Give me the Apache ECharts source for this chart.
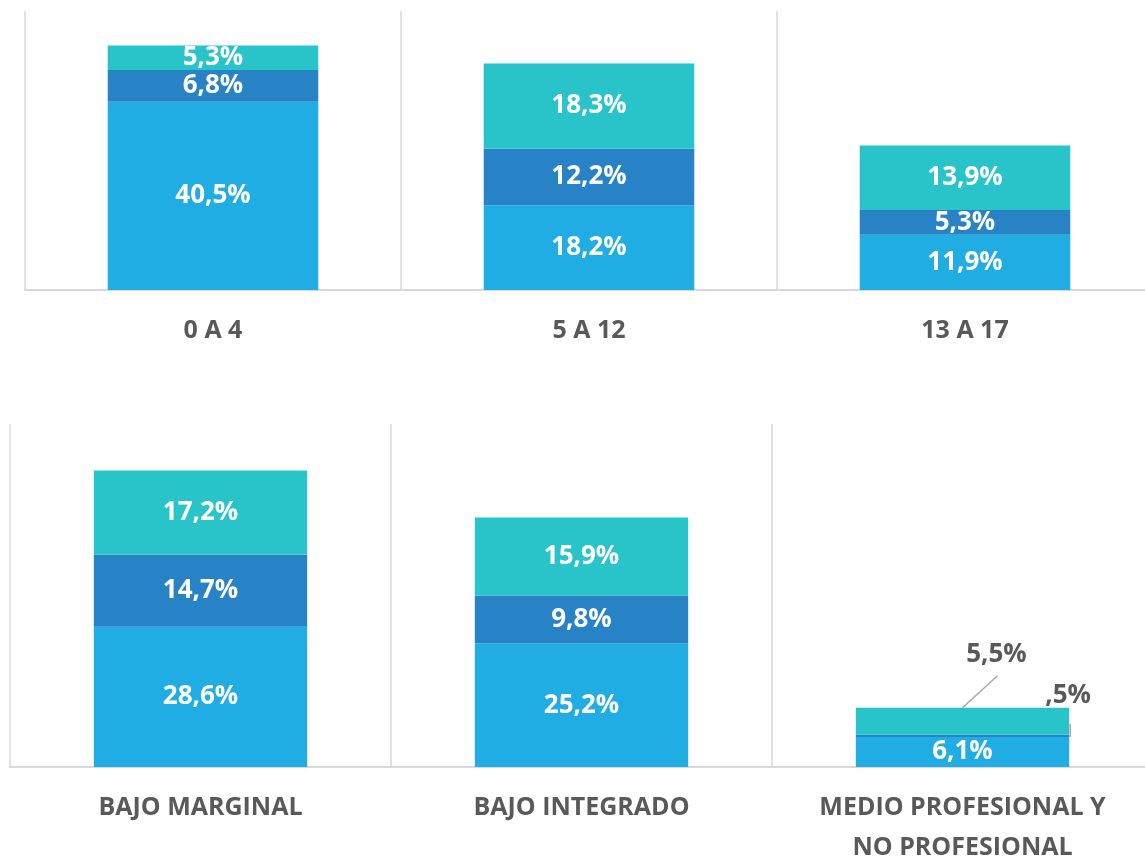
<!DOCTYPE html>
<html>
<head>
<meta charset="utf-8">
<script src="https://cdn.jsdelivr.net/npm/echarts@6/dist/echarts.min.js"></script>
<style>
  html, body { margin: 0; padding: 0; background: #fff; }
  #main { width: 1145px; height: 859px; }
</style>
</head>
<body>
<div id="main"></div>
<script>
// edades
var topCats = ['0 A 4', '5 A 12', '13 A 17'];
var topBase = [40.5, 18.2, 11.9];
var topMid = [6.8, 12.2, 5.3];
var topUpper = [5.3, 18.3, 13.9];
// nivel socioeconomico
var botCats = ['BAJO MARGINAL', 'BAJO INTEGRADO', 'MEDIO PROFESIONAL Y\nNO PROFESIONAL'];
var botBase = [28.6, 25.2, 6.1];
var botMid = [14.7, 9.8, 0.5];
var botUpper = [17.2, 15.9, 5.5];
var topMax = 60;
var botMax = 70;

var colors = ['#1FADE3', '#2882C6', '#29C4CA'];
var gridLine = '#d9d9d9';
var textGray = '#595959';

// rects de las barras chicas, para dibujar las lineas guia despues
var guide = {};

// formato tipo "#,#%" de excel
function fmt(v) {
  var s = v.toFixed(1).replace('.', ',');
  if (v < 1) s = s.replace(/^0/, '');
  return s + '%';
}

function xAxisFor(idx, cats) {
  return {
    type: 'category',
    gridIndex: idx,
    data: cats,
    axisTick: { show: false },
    axisLine: { lineStyle: { color: gridLine, width: 2 } },
    splitLine: { show: true, lineStyle: { color: gridLine, width: 1.5 } },
    axisLabel: {
      color: textGray,
      fontFamily: 'Open Sans',
      fontWeight: 'bold',
      fontSize: 25,
      lineHeight: 40,
      margin: 21,
      interval: 0
    }
  };
}

function yAxisFor(idx, max) {
  return {
    type: 'value',
    gridIndex: idx,
    min: 0,
    max: max,
    show: false,
    splitLine: { show: false }
  };
}

var insideLabel = {
  show: true,
  position: 'inside',
  color: '#fff',
  fontFamily: 'Open Sans',
  fontWeight: 'bold',
  fontSize: 26,
  formatter: function (p) { return fmt(p.value); }
};

// los segmentos chicos de la ultima barra llevan la etiqueta afuera
function outsideItems(arr) {
  return arr.map(function (v, i) {
    if (i !== 2) return v;
    return { value: v, label: { position: 'top', color: textGray } };
  });
}

function barSeries(name, idx, stack, data, color, layout) {
  var s = {
    name: name,
    type: 'bar',
    xAxisIndex: idx,
    yAxisIndex: idx,
    stack: stack,
    barWidth: '56%',
    data: data,
    itemStyle: { color: color },
    label: insideLabel
  };
  if (layout) s.labelLayout = layout;
  return s;
}

var option = {
  animation: false,
  backgroundColor: '#fff',
  grid: [
    { left: 25, width: 1128, top: 11, bottom: 569, outerBoundsMode: 'none' },
    { left: 10, width: 1143, top: 424, bottom: 92, outerBoundsMode: 'none' }
  ],
  xAxis: [xAxisFor(0, topCats), xAxisFor(1, botCats)],
  yAxis: [yAxisFor(0, topMax), yAxisFor(1, botMax)],
  series: [
    barSeries('base', 0, 'a', topBase, colors[0]),
    barSeries('medio', 0, 'a', topMid, colors[1]),
    barSeries('alto', 0, 'a', topUpper, colors[2]),
    barSeries('base', 1, 'b', botBase, colors[0]),
    barSeries('medio', 1, 'b', outsideItems(botMid), colors[1], function (p) {
      if (p.dataIndex !== 2) return {};
      guide.mid = p.rect;
      return { x: p.rect.x + p.rect.width - 1, y: p.rect.y - 39, align: 'center', verticalAlign: 'middle' };
    }),
    barSeries('alto', 1, 'b', outsideItems(botUpper), colors[2], function (p) {
      if (p.dataIndex !== 2) return {};
      guide.upper = p.rect;
      return { x: p.rect.x + p.rect.width / 2 + 34, y: p.rect.y - 53, align: 'center', verticalAlign: 'middle' };
    })
  ]
};

var chart = echarts.init(document.getElementById('main'), null, { renderer: 'canvas' });
chart.setOption(option);

// lineas guia de las etiquetas externas
var lines = [];
var guideStyle = { stroke: '#a6a6a6', lineWidth: 1.5 };
if (guide.upper) {
  var u = guide.upper, cx = u.x + u.width / 2;
  lines.push({ type: 'line', z: 100, shape: { x1: cx, y1: u.y, x2: cx + 35, y2: u.y - 32 }, style: guideStyle });
}
if (guide.mid) {
  var m = guide.mid, rx = m.x + m.width + 1;
  lines.push({ type: 'line', z: 100, shape: { x1: rx, y1: m.y + m.height, x2: rx, y2: m.y - 11 }, style: guideStyle });
}
chart.setOption({ graphic: lines });
</script>
</body>
</html>
